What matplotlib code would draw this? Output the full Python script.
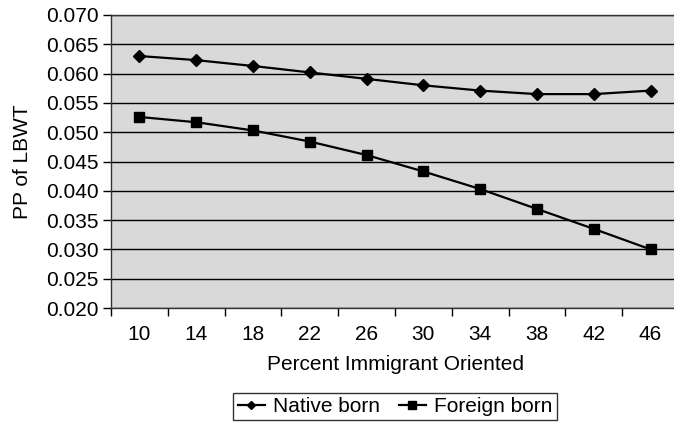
import numpy as np
import matplotlib.pyplot as plt
from matplotlib.ticker import FixedLocator, NullFormatter

# data
pct_labels = ['10', '14', '18', '22', '26', '30', '34', '38', '42', '46']
native_born = [0.0630, 0.0623, 0.0613, 0.0602, 0.0591, 0.0580, 0.0571, 0.0565, 0.0565, 0.0571]
foreign_born = [0.0526, 0.0517, 0.0503, 0.0484, 0.0461, 0.0433, 0.0403, 0.0369, 0.0335, 0.0300]
y_ticks = [0.020, 0.025, 0.030, 0.035, 0.040, 0.045, 0.050, 0.055, 0.060, 0.065, 0.070]

plt.rcParams['font.family'] = ['Liberation Sans', 'DejaVu Sans']
plt.rcParams['font.size'] = 15

fig = plt.figure(figsize=(6.74, 4.24), dpi=100)
ax = fig.add_axes([111 / 674, 116 / 424, 568 / 674, 293 / 424])
ax.set_facecolor('#d9d9d9')

x = np.arange(len(pct_labels))
ax.plot(x, native_born, color='black', lw=1.6, marker='D', ms=6, label='Native born')
ax.plot(x, foreign_born, color='black', lw=1.6, marker='s', ms=7.5, label='Foreign born')

ax.set_xlim(-0.5, len(pct_labels) - 0.5)
ax.set_ylim(0.020, 0.070)
ax.set_yticks(y_ticks)
ax.set_yticklabels(['%.3f' % v for v in y_ticks])
ax.yaxis.grid(True, color='black', lw=1)
ax.set_axisbelow(True)

# ticks between categories, labels centred on categories
ax.xaxis.set_major_locator(FixedLocator(np.arange(-0.5, len(pct_labels), 1.0)))
ax.xaxis.set_major_formatter(NullFormatter())
ax.xaxis.set_minor_locator(FixedLocator(x))
ax.set_xticklabels(pct_labels, minor=True)
ax.tick_params(axis='x', which='major', length=6, width=1, direction='out')
ax.tick_params(axis='x', which='minor', length=0, pad=12)
ax.tick_params(axis='y', length=6, width=1, direction='out', pad=3)

for s in ax.spines.values():
    s.set_color('#333333')
    s.set_linewidth(1)

ax.set_xlabel('Percent Immigrant Oriented', labelpad=8)
ax.set_ylabel('PP of LBWT', labelpad=10)

leg = ax.legend(loc='upper center', bbox_to_anchor=(0.5, -0.29), borderaxespad=0,
                ncol=2, frameon=True, fancybox=False,
                handlelength=1.3, handletextpad=0.4, columnspacing=0.9, borderpad=0.2,
                markerscale=0.7)
leg.get_frame().set_edgecolor('black')
leg.get_frame().set_linewidth(1)

plt.savefig('out.png', dpi=100)
